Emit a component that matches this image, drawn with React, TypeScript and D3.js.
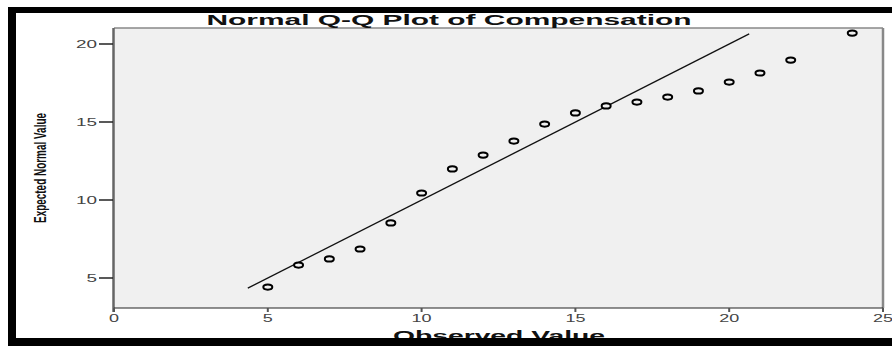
import React from "react";
import * as d3 from "d3";

const observed = [5, 6, 7, 8, 9, 10, 11, 12, 13, 14, 15, 16, 17, 18, 19, 20, 21, 22, 24];
const expected = [4.42, 5.83, 6.22, 6.86, 8.53, 10.45, 11.99, 12.88, 13.78, 14.87, 15.58, 16.03, 16.28, 16.6, 16.99, 17.56, 18.14, 18.97, 20.7];
const refLine = [4.35, 20.65];
const xTicks = [0, 5, 10, 15, 20, 25];
const yTicks = [5, 10, 15, 20];
const title = "Normal Q-Q Plot of Compensation";
const xLabel = "Observed Value";
const yLabel = "Expected Normal Value";

const W = 892;
const H = 346;
const left = 114;
const right = 883;
const top = 28;
const bottom = 308;

export default function App() {
  const x = d3.scaleLinear().domain([0, 25]).range([left, right]);
  const y = d3.scaleLinear().domain([5, 20]).range([278, 44]);
  const line = d3
    .line<number>()
    .x((d) => x(d))
    .y((d) => y(d));
  const font = "Liberation Sans, Arial, sans-serif";

  return (
    <svg
      width={W}
      height={H}
      style={{ position: "absolute", left: 0, top: 0, background: "#fff" }}
    >
      <rect x={left} y={top} width={right - left} height={bottom - top} fill="#f0f0f0" />
      <line x1={left} x2={right} y1={top} y2={top} stroke="#888" strokeWidth={1.5} />
      <line x1={right} x2={right} y1={top} y2={bottom} stroke="#888" strokeWidth={2.5} />
      <line x1={left - 0.5} x2={left - 0.5} y1={top} y2={bottom + 4} stroke="#666" strokeWidth={2.5} />
      <line x1={left} x2={right} y1={bottom} y2={bottom} stroke="#222" strokeWidth={1} />

      {yTicks.map((t) => (
        <g key={"y" + t}>
          <line x1={left - 15} x2={left - 1} y1={y(t)} y2={y(t)} stroke="#222" strokeWidth={1.5} />
          <text
            x={left - 17}
            y={y(t) + 3.5}
            textAnchor="end"
            fontSize={10}
            fontFamily={font}
            fill="#444"
            textLength={String(t).length * 10.5}
            lengthAdjust="spacingAndGlyphs"
          >
            {t}
          </text>
        </g>
      ))}

      {xTicks.map((t) => (
        <g key={"x" + t}>
          <line x1={x(t)} x2={x(t)} y1={bottom} y2={bottom + 4} stroke="#555" strokeWidth={2} />
          <text
            x={x(t)}
            y={bottom + 14}
            textAnchor="middle"
            fontSize={10}
            fontFamily={font}
            fill="#444"
            textLength={String(t).length * 10}
            lengthAdjust="spacingAndGlyphs"
          >
            {t}
          </text>
        </g>
      ))}

      <path d={line(refLine) || ""} fill="none" stroke="#111" strokeWidth={1.3} />

      {observed.map((o, i) => (
        <ellipse
          key={"p" + i}
          cx={x(o)}
          cy={y(expected[i])}
          rx={4.5}
          ry={2.6}
          fill="#f0f0f0"
          stroke="#000"
          strokeWidth={2}
        />
      ))}

      <text
        x={449}
        y={25}
        textAnchor="middle"
        fontSize={14}
        fontWeight="bold"
        fontFamily={font}
        fill="#111"
        textLength={485}
        lengthAdjust="spacingAndGlyphs"
      >
        {title}
      </text>

      <text
        x={499}
        y={341}
        textAnchor="middle"
        fontSize={14}
        fontWeight="bold"
        fontFamily={font}
        fill="#111"
        textLength={212}
        lengthAdjust="spacingAndGlyphs"
      >
        {xLabel}
      </text>

      <text
        transform={`translate(46,168) rotate(-90)`}
        textAnchor="middle"
        fontSize={16}
        fontWeight="bold"
        fontFamily={font}
        fill="#111"
        textLength={110}
        lengthAdjust="spacingAndGlyphs"
      >
        {yLabel}
      </text>

      <rect x={8} y={7} width={W - 8} height={6} fill="#000" />
      <rect x={8} y={7} width={8} height={H - 7} fill="#000" />
      <rect x={8} y={338} width={W - 8} height={H - 338} fill="#000" />
    </svg>
  );
}
